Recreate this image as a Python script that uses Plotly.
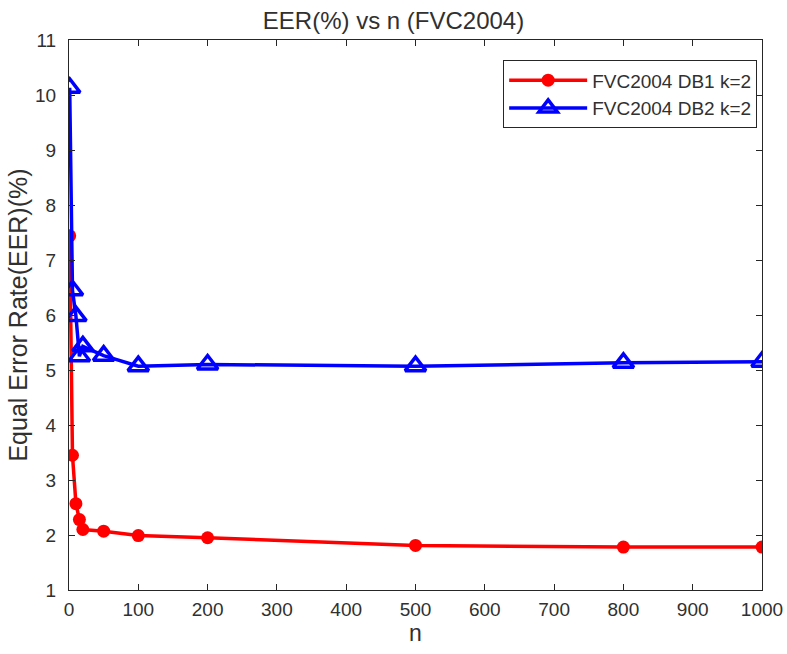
import plotly.graph_objects as go

n_vals = [1, 5, 10, 15, 20, 50, 100, 200, 500, 800, 1000]
db1_eer = [7.44, 3.45, 2.57, 2.28, 2.1, 2.07, 1.99, 1.95, 1.81, 1.78, 1.78]
db2_eer = [10.13, 6.45, 5.98, 5.25, 5.43, 5.26, 5.07, 5.1, 5.07, 5.13, 5.15]
x_ticks = list(range(0, 1001, 100))
y_ticks = list(range(1, 12))

font = "Liberation Sans, Arial, sans-serif"
txt = "#303030"
fig = go.Figure()
fig.add_trace(go.Scatter(
    x=n_vals, y=db1_eer, mode="lines+markers", name="FVC2004 DB1 k=2",
    line=dict(color="#ff0000", width=3.5),
    marker=dict(symbol="circle", size=13, color="#ff0000"),
))
fig.add_trace(go.Scatter(
    x=n_vals, y=db2_eer, mode="lines+markers", name="FVC2004 DB2 k=2",
    line=dict(color="#0000ff", width=3.5),
    marker=dict(symbol="triangle-up-open", size=18, color="#0000ff",
                line=dict(width=3.5, color="#0000ff")),
))

axis_common = dict(
    showgrid=False, zeroline=False, showline=True, linecolor="#262626", linewidth=1,
    mirror="ticks", ticks="inside", ticklen=6, tickcolor="#262626", automargin=False,
    tickfont=dict(family=font, size=19, color=txt),
)
fig.update_xaxes(range=[0, 1000], tickvals=x_ticks, ticklabelstandoff=2, **axis_common,
                 title=dict(text="n", font=dict(family=font, size=23, color=txt), standoff=6))
fig.update_yaxes(range=[1, 11], tickvals=y_ticks, ticklabelstandoff=8, **axis_common,
                 title=dict(text="Equal Error Rate(EER)(%)", font=dict(family=font, size=25, color=txt), standoff=0))

fig.update_layout(
    width=787, height=654,
    margin=dict(l=69, r=25, t=40, b=64),
    paper_bgcolor="white", plot_bgcolor="white",
    title=dict(text="EER(%) vs n (FVC2004)", x=0.5, xanchor="center", y=0.969, yanchor="middle",
               font=dict(family=font, size=24, color=txt)),
    legend=dict(x=0.993, y=0.963, xanchor="right", yanchor="top",
                bordercolor="#262626", borderwidth=1, bgcolor="white",
                font=dict(family=font, size=19, color=txt),
                itemwidth=78, tracegroupgap=2),
    showlegend=True,
)
fig.write_html("out.html")
